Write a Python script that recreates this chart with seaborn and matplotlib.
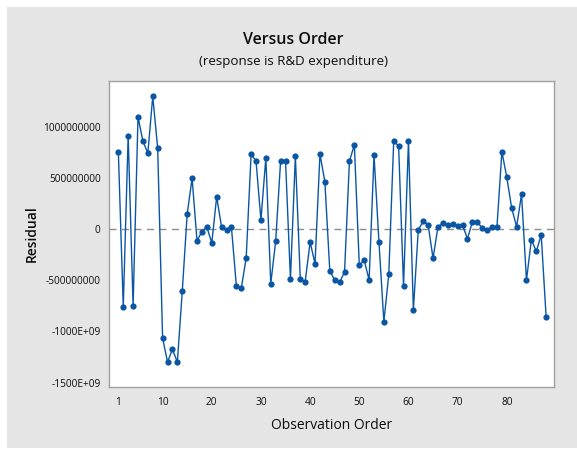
import matplotlib
matplotlib.use("Agg")
import matplotlib.pyplot as plt
import matplotlib.patches as mpatches
import seaborn as sns
import pandas as pd

# Residuals (in units) for each observation, in run order
residuals = [
    755e6, -759e6, 911e6, -749e6, 1094e6, 856e6, 742e6, 1296e6, 788e6, -1064e6,
    -1299e6, -1175e6, -1299e6, -609e6, 146e6, 495e6, -114e6, -26e6, 20e6, -137e6,
    315e6, 16e6, -7e6, 16e6, -554e6, -579e6, -283e6, 732e6, 664e6, 88e6,
    697e6, -534e6, -117e6, 664e6, 664e6, -488e6, 710e6, -485e6, -514e6, -127e6,
    -339e6, 732e6, 462e6, -407e6, -498e6, -521e6, -420e6, 664e6, 820e6, -352e6,
    -306e6, -498e6, 720e6, -127e6, -905e6, -443e6, 856e6, 810e6, -557e6, 856e6,
    -791e6, -7e6, 75e6, 42e6, -286e6, 20e6, 59e6, 42e6, 46e6, 33e6,
    36e6, -94e6, 68e6, 68e6, 10e6, -13e6, 20e6, 20e6, 755e6, 505e6,
    202e6, 23e6, 339e6, -501e6, -104e6, -218e6, -59e6, -859e6,
]
order = list(range(1, len(residuals) + 1))

x_ticks = [1, 10, 20, 30, 40, 50, 60, 70, 80]
y_ticks = [1000000000, 500000000, 0, -500000000, -1000000000, -1500000000]
y_tick_labels = ["1000000000", "500000000", "0", "-500000000", "-1000E+09", "-1500E+09"]

df = pd.DataFrame({"Observation Order": order, "Residual": residuals})

sns.set_theme(style="white")
plt.rcParams["font.family"] = ["Open Sans", "DejaVu Sans"]

W, H = 577, 450
fig = plt.figure(figsize=(W / 100, H / 100), dpi=100, facecolor="white")

# grey panel behind the graph
panel = mpatches.Rectangle((7 / W, 2.5 / H), (W - 7) / W, (447.5 - 7) / H,
                           transform=fig.transFigure, facecolor="#e5e5e5",
                           edgecolor="none", zorder=-10)
fig.patches.append(panel)

ax = fig.add_axes([109 / W, 1 - 386.7 / H, (554 - 109) / W, (386.7 - 80.5) / H])
ax.set_facecolor("white")

blue = "#0a56a5"
sns.lineplot(data=df, x="Observation Order", y="Residual", ax=ax, color=blue,
             linewidth=1.0, marker="o", markersize=4.5, markeredgewidth=0,
             markerfacecolor=blue, estimator=None)
ax.axhline(0, color="#8c8c8c", linestyle=(0, (5, 4)), linewidth=1.0, zorder=0)

ax.set_xlim(-0.9, 89.6)
ax.set_ylim(-1540e6, 1450e6)
ax.set_xticks(x_ticks)
ax.set_xticklabels([str(t) for t in x_ticks])
ax.set_yticks(y_ticks)
ax.set_yticklabels(y_tick_labels)

for s in ax.spines.values():
    s.set_color("#a0a0a0")
    s.set_linewidth(1.0)
ax.tick_params(axis="both", which="major", direction="out", length=4, width=1,
               color="#a0a0a0", labelsize=7.3, labelcolor="#0d0d0d")
ax.tick_params(axis="x", pad=3.5)
ax.tick_params(axis="y", pad=2)
ax.set_xlabel("Observation Order", fontsize=10, color="#0d0d0d", labelpad=7)
ax.set_ylabel("Residual", fontsize=10, color="#0d0d0d", labelpad=3, fontweight="semibold")

fig.text(293.5 / W, 1 - 40.5 / H, "Versus Order", ha="center", va="center",
         fontsize=11.5, fontweight="semibold", color="#0d0d0d")
fig.text(293.5 / W, 1 - 61.5 / H, "(response is R&D expenditure)", ha="center", va="center",
         fontsize=9.6, color="#0d0d0d")

fig.savefig("out.png", dpi=100, facecolor="white")
